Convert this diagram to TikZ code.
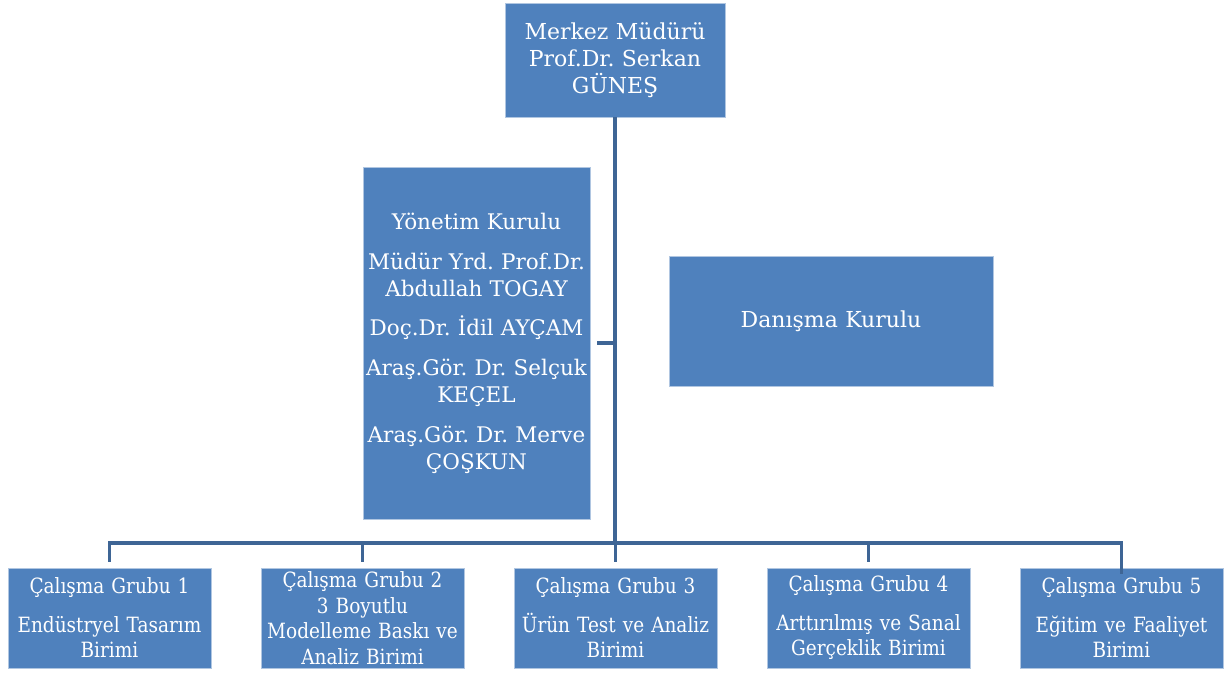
\documentclass[tikz,border=0pt]{standalone}
\usepackage{fontspec}
\setmainfont{DejaVu Serif}
\newfontfamily\narrowserif[FakeStretch=0.88]{DejaVu Serif}
\definecolor{boxblue}{HTML}{4F81BD}
\definecolor{linkblue}{HTML}{3E6595}
\begin{document}
\frenchspacing
\begin{tikzpicture}[x=1pt,y=-1pt,
    unit/.style={draw=white!55!boxblue, line width=0.8pt, fill=boxblue, text=white, align=center, inner sep=0pt},
    head/.style={unit, minimum width=220, minimum height=114, text width=218, font=\fontsize{22}{27}\selectfont},
    board/.style={unit, minimum width=227, minimum height=352, text width=227, font=\fontsize{21.5}{27}\selectfont},
    group/.style={unit, minimum width=203, minimum height=100, text width=203, font=\narrowserif\fontsize{21}{25.5}\selectfont},
    link/.style={draw=linkblue, line width=3.5pt}]
    \useasboundingbox (0,0) rectangle (1226,673);

    \node [head] (Mudur) at (615,60) {Merkez Müdürü\\Prof.Dr. Serkan\\GÜNEŞ};
    \node [board] (Yonetim) at (476.5,343) {Yönetim Kurulu\\[13pt]Müdür Yrd. Prof.Dr.\\Abdullah TOGAY\\[12pt]Doç.Dr. İdil AYÇAM\\[13pt]Araş.Gör. Dr. Selçuk\\KEÇEL\\[13pt]Araş.Gör. Dr. Merve\\ÇOŞKUN};
    \node [head, minimum width=324, minimum height=130, text width=320] (Danisma) at (831,321) {Danışma Kurulu};

    \node [group] (Grup1) at (109.5,618) {Çalışma Grubu 1\\[13pt]Endüstryel Tasarım\\Birimi};
    \node [group] (Grup2) at (362.5,618) {Çalışma Grubu 2\\3 Boyutlu\\Modelleme Baskı ve\\Analiz Birimi};
    \node [group] (Grup3) at (615.5,618) {Çalışma Grubu 3\\[13pt]Ürün Test ve Analiz\\Birimi};
    \node [group] (Grup4) at (868.5,618) {Çalışma Grubu 4\\[13pt]Arttırılmış ve Sanal\\Gerçeklik Birimi};
    \node [group] (Grup5) at (1121.5,618) {Çalışma Grubu 5\\[13pt]Eğitim ve Faaliyet\\Birimi};

    \coordinate (Bus) at (615,543);

    \path [link] (Mudur.south) -- (Bus);
    \path [link, shorten <=7pt] (Yonetim.east) -- (Yonetim.east -| Bus);
    \path [link, shorten <=6pt] (Grup1.north) |- (Bus) -| ([yshift=-6pt]Grup5.north);
    \path [link, shorten <=6pt] (Grup2.north) -- (Grup2.north |- Bus);
    \path [link, shorten <=6pt] (Grup3.north) -- (Grup3.north |- Bus);
    \path [link, shorten <=6pt] (Grup4.north) -- (Grup4.north |- Bus);
\end{tikzpicture}
\end{document}
